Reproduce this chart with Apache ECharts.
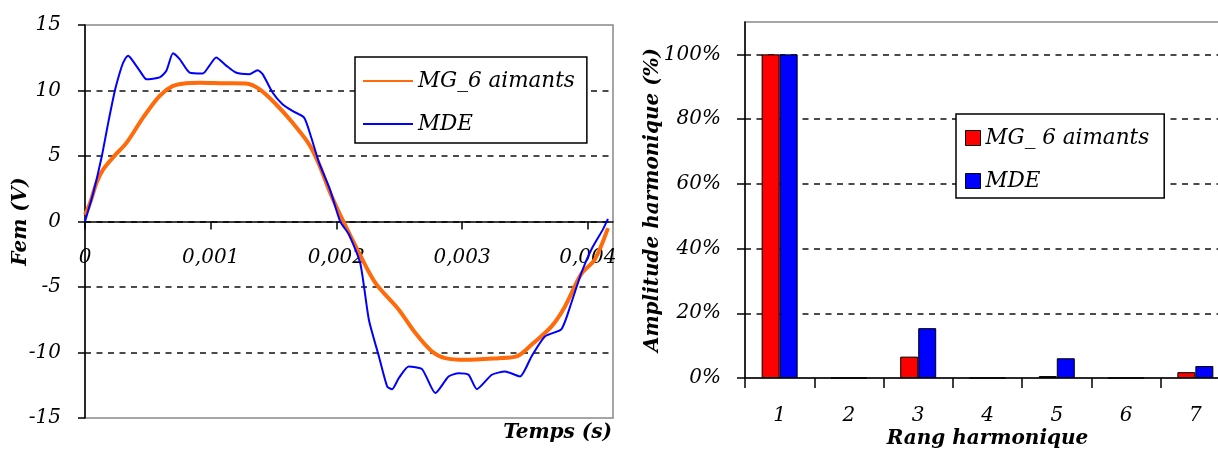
<!DOCTYPE html>
<html>
<head>
<meta charset="utf-8">
<script src="https://cdn.jsdelivr.net/npm/echarts@6/dist/echarts.min.js"></script>
<style>html,body{margin:0;padding:0;background:#fff}#c{width:1218px;height:452px}</style>
</head>
<body>
<div id="c"></div>
<script>
// ---- Left chart: EMF waveforms (time in s, EMF in V) ----
const timeMG = [0, 0.00004, 0.000092, 0.000145, 0.000238, 0.00033, 0.000462, 0.000594, 0.0007, 0.0008, 0.000911, 0.0011, 0.00128, 0.001387, 0.001519, 0.00165, 0.001783, 0.001862, 0.00195, 0.00205, 0.00218, 0.002311, 0.002496, 0.002628, 0.00276, 0.002866, 0.003024, 0.003288, 0.003434, 0.003552, 0.003711, 0.003817, 0.003948, 0.004055, 0.00416];
const valuesMG = [0.5, 1.4, 2.96, 3.98, 5.05, 6.0, 7.93, 9.59, 10.35, 10.55, 10.6, 10.55, 10.53, 10.1, 8.95, 7.55, 5.89, 4.36, 2.2, 0.1, -2.4, -4.7, -6.73, -8.52, -9.92, -10.43, -10.56, -10.43, -10.3, -9.41, -8.01, -6.5, -4.0, -2.9, -0.5];
const timeMDE = [0, 0.000066, 0.000132, 0.000185, 0.000238, 0.000277, 0.000304, 0.000343, 0.00037, 0.000436, 0.000489, 0.000594, 0.000647, 0.0007, 0.000753, 0.000832, 0.000937, 0.00099, 0.001043, 0.001123, 0.0012, 0.001307, 0.001373, 0.001413, 0.001492, 0.001571, 0.00165, 0.001743, 0.001796, 0.001862, 0.00195, 0.00203, 0.0021, 0.00219, 0.002258, 0.002338, 0.002404, 0.002443, 0.002496, 0.002575, 0.002681, 0.002787, 0.002892, 0.002971, 0.003051, 0.003117, 0.003236, 0.003341, 0.00346, 0.003552, 0.003658, 0.00379, 0.003869, 0.003948, 0.004028, 0.00412, 0.00416];
const valuesMDE = [0, 2.2, 4.9, 7.55, 10, 11.37, 12.13, 12.65, 12.4, 11.5, 10.86, 11.0, 11.5, 12.85, 12.4, 11.37, 11.3, 11.9, 12.52, 11.9, 11.37, 11.25, 11.55, 11.25, 9.85, 8.95, 8.44, 7.93, 6.53, 4.49, 2.4, 0, -1.0, -3.2, -7.5, -10.3, -12.6, -12.8, -11.96, -11.07, -11.27, -13.1, -11.83, -11.58, -11.7, -12.8, -11.7, -11.45, -11.83, -10.3, -8.78, -8.21, -6.2, -3.93, -2.14, -0.6, 0.2];
const timeTicks = [0, 0.001, 0.002, 0.003, 0.004];

// ---- Right chart: harmonic spectrum ----
const harmonicRanks = ['1', '2', '3', '4', '5', '6', '7'];
const harmonicsMG = [1.0, 0, 0.066, 0, 0.006, 0, 0.018];
const harmonicsMDE = [1.0, 0, 0.154, 0, 0.061, 0, 0.037];

const F = 'DejaVu Serif';
const tickFont = {fontFamily: F, fontStyle: 'italic', fontSize: 20, color: '#000'};
const legendFont = {fontFamily: F, fontStyle: 'italic', fontSize: 21.5, color: '#000', lineHeight: 22};
const titleFont = {fontFamily: F, fontStyle: 'italic', fontWeight: 'bold', fontSize: 20, color: '#000'};
const dash = {color: '#111', type: [6, 5.5], width: 1.6};

const zip = (a, b) => a.map((t, i) => [t, b[i]]);

const leftGrid = {left: 85, top: 25, width: 528, height: 393};
const yMinLeft = -15, yMaxLeft = 15;
// move the time axis up to the V = 0 line
const zeroOffset = -leftGrid.height * (0 - yMinLeft) / (yMaxLeft - yMinLeft);

const chart = echarts.init(document.getElementById('c'), null, {renderer: 'canvas'});
chart.setOption({
  animation: false,
  backgroundColor: '#fff',
  title: [{
    text: 'Temps (s)', right: 606, top: 423, padding: 0,
    textStyle: titleFont
  }],
  grid: [
    Object.assign({show: true, borderColor: '#888', borderWidth: 1.5, backgroundColor: 'transparent', containLabel: false, outerBoundsMode: 'none'}, leftGrid),
    {left: 745, top: 22, width: 485, height: 356, show: true, borderColor: '#888', borderWidth: 1.5, backgroundColor: 'transparent', containLabel: false, outerBoundsMode: 'none'}
  ],
  legend: [
    {
      left: 355, top: 57, orient: 'vertical',
      data: [
        {name: 'MG_6 aimants', icon: 'rect', itemStyle: {color: '#ff6a0a', borderWidth: 0}},
        {name: 'MDE', icon: 'rect', itemStyle: {color: '#0000ff', borderWidth: 0}}
      ],
      itemWidth: 50, itemHeight: 2, itemGap: 21,
      padding: [13, 12, 8, 8],
      backgroundColor: '#fff', borderColor: '#000', borderWidth: 1.5,
      textStyle: legendFont,
      selectedMode: false
    },
    {
      left: 956, top: 114, orient: 'vertical',
      data: [
        {name: 'MG_ 6 aimants', icon: 'rect', itemStyle: {color: '#ff0000', borderColor: '#000', borderWidth: 1}},
        {name: 'MDE', icon: 'rect', itemStyle: {color: '#0000ff', borderColor: '#000', borderWidth: 1}}
      ],
      itemWidth: 15, itemHeight: 15, itemGap: 21,
      padding: [13, 15, 6, 9],
      backgroundColor: '#fff', borderColor: '#000', borderWidth: 1.5,
      textStyle: legendFont,
      selectedMode: false
    }
  ],
  xAxis: [
    {
      type: 'value', gridIndex: 0, min: 0, max: 0.0042, interval: 0.001,
      position: 'bottom', offset: zeroOffset,
      axisLine: {onZero: false, lineStyle: {color: '#000', width: 1.5}},
      axisTick: {show: true, length: 8, lineStyle: {color: '#000', width: 1.5}, customValues: timeTicks},
      axisLabel: {margin: 26, customValues: timeTicks, formatter: v => String(+v.toFixed(4)).replace('.', ','), ...tickFont},
      splitLine: {show: false}
    },
    {
      type: 'category', gridIndex: 1, data: harmonicRanks,
      name: 'Rang harmonique', nameLocation: 'middle', nameGap: 51, nameMoveOverlap: false,
      nameTextStyle: titleFont,
      axisLine: {lineStyle: {color: '#000', width: 1.5}},
      axisTick: {show: true, length: 10, lineStyle: {color: '#000', width: 1.5}},
      axisLabel: {margin: 28, ...tickFont}
    }
  ],
  yAxis: [
    {
      type: 'value', gridIndex: 0, min: yMinLeft, max: yMaxLeft, interval: 5,
      name: 'Fem (V)', nameLocation: 'middle', nameGap: 54, nameRotate: 90, nameMoveOverlap: false,
      nameTextStyle: titleFont,
      axisLine: {show: true, onZero: false, lineStyle: {color: '#000', width: 1.5}},
      axisTick: {show: true, length: 7, lineStyle: {color: '#000', width: 1.5}},
      axisLabel: {margin: 24, ...tickFont},
      splitLine: {show: true, showMinLine: false, showMaxLine: false, lineStyle: dash}
    },
    {
      type: 'value', gridIndex: 1, min: 0, max: 1.1, interval: 0.2,
      name: 'Amplitude harmonique (%)', nameLocation: 'middle', nameGap: 82, nameRotate: 90, nameMoveOverlap: false,
      nameTextStyle: titleFont,
      axisLine: {show: true, lineStyle: {color: '#000', width: 1.5}},
      axisTick: {show: true, length: 8, lineStyle: {color: '#000', width: 1.5}},
      axisLabel: {margin: 24, showMaxLabel: false, formatter: v => Math.round(v * 100) + '%', ...tickFont},
      splitLine: {show: true, showMinLine: false, showMaxLine: false, lineStyle: dash}
    }
  ],
  series: [
    {
      name: 'MG_6 aimants', type: 'line', xAxisIndex: 0, yAxisIndex: 0,
      data: zip(timeMG, valuesMG), symbol: 'none', smooth: 0.3,
      lineStyle: {color: '#ff6a0a', width: 4}, itemStyle: {color: '#ff6a0a'}, z: 3
    },
    {
      name: 'MDE', type: 'line', xAxisIndex: 0, yAxisIndex: 0,
      data: zip(timeMDE, valuesMDE), symbol: 'none', smooth: 0.2,
      lineStyle: {color: '#0000ff', width: 2}, itemStyle: {color: '#0000ff'}, z: 4
    },
    {
      name: 'MG_ 6 aimants', type: 'bar', xAxisIndex: 1, yAxisIndex: 1,
      data: harmonicsMG, barWidth: 18, barGap: '0%',
      itemStyle: {color: '#ff0000', borderColor: '#000', borderWidth: 1}
    },
    {
      name: 'MDE', type: 'bar', xAxisIndex: 1, yAxisIndex: 1,
      data: harmonicsMDE, barWidth: 18, barGap: '0%',
      itemStyle: {color: '#0000ff', borderColor: '#000', borderWidth: 1}
    }
  ]
});
</script>
</body>
</html>
